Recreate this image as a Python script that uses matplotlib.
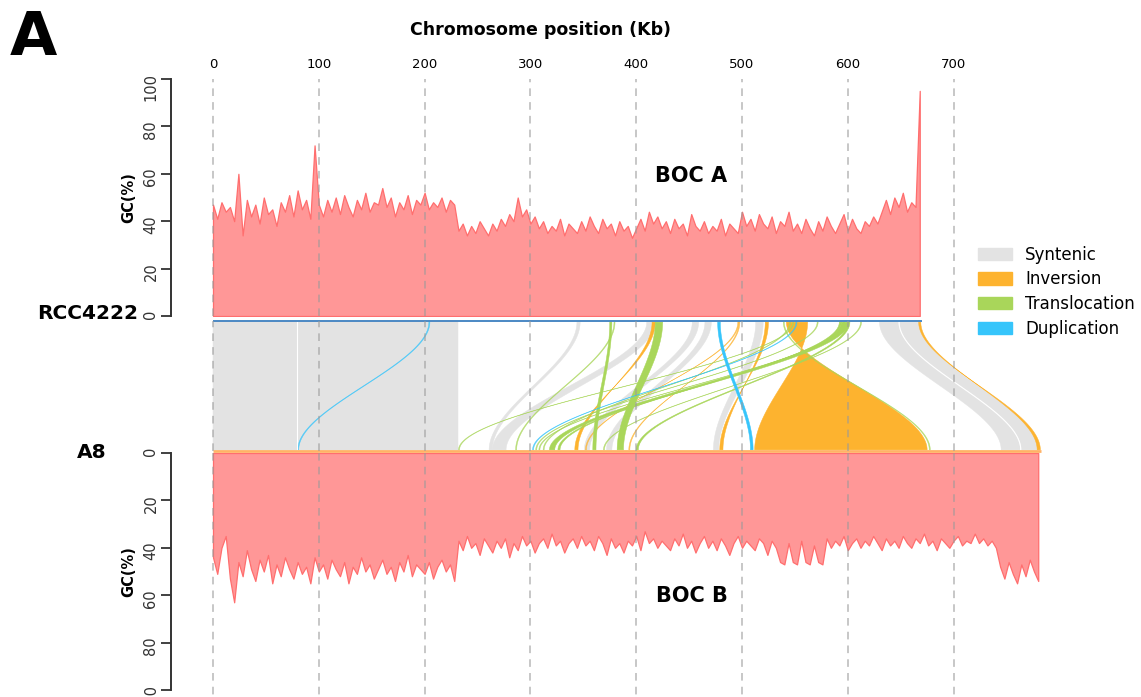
import numpy as np
import matplotlib
matplotlib.use("Agg")
import matplotlib.pyplot as plt
from matplotlib.patches import Patch

# ---- data -------------------------------------------------------------
STEP = 4  # kb per GC window
LEN_A = 670
LEN_B = 783

# GC(%) of RCC4222 (BOC A), one value per 4 kb window
gc_a = [47, 41, 48, 44, 46, 40, 60, 34, 49, 42, 47, 39, 50, 43, 45,
        38, 48, 44, 51, 42, 53, 45, 49, 41, 72, 47, 42, 49, 44, 50,
        43, 51, 46, 42, 49, 45, 52, 44, 48, 47, 54, 46, 50, 42, 48,
        45, 51, 43, 49, 47, 52, 45, 48, 46, 50, 44, 49, 47,
        36, 39, 34, 38, 35, 40, 37, 34, 39, 36,
        41, 38, 43, 40, 50, 42, 45, 39, 42, 37,
        40, 35, 38, 36, 41, 34, 39, 37, 35, 40,
        36, 42, 38, 35, 41, 37, 39, 34, 40, 36,
        38, 33, 37, 41, 36, 44, 39, 42, 37, 40,
        35, 41, 37, 39, 34, 43, 38, 36, 40, 35,
        38, 36, 41, 34, 39, 37, 35, 44, 38, 41,
        36, 43, 39, 37, 42, 35, 40, 38, 44, 36,
        39, 35, 41, 37, 34, 40, 36, 42, 38, 35,
        39, 43, 36, 41, 37, 35, 40, 38, 42, 39,
        44, 49, 43, 50, 46, 52, 44, 48, 46, 95]

# GC(%) of A8 (BOC B), one value per 4 kb window
gc_b = [44, 51, 40, 35, 53, 63, 46, 52, 41, 49,
        54, 45, 50, 43, 55, 47, 52, 44, 49, 53,
        46, 51, 48, 55, 44, 50, 47, 53, 45, 49,
        52, 46, 55, 48, 51, 44, 50, 47, 53, 49,
        45, 51, 48, 54, 46, 50, 43, 52, 47, 49,
        51, 46, 53, 48, 45, 50, 47, 54,
        37, 41, 35, 40, 38, 43, 36, 39, 42, 37,
        40, 36, 44, 38, 41, 35, 39, 37, 42, 38,
        36, 40, 34, 39, 37, 42, 38, 36, 40, 35,
        39, 37, 41, 35, 38, 43, 36, 40, 38, 42,
        37, 39, 35, 41, 33, 38, 36, 40, 37, 39,
        41, 36, 39, 34, 40, 37, 42, 38, 35, 40,
        37, 41, 36, 39, 43, 38, 35, 40, 37, 39,
        41, 36, 38, 43, 37, 40,
        46, 47, 38, 46, 47, 37, 46, 47, 39, 46, 47,
        36, 40, 37, 39, 35, 41, 38, 36, 40, 37,
        39, 35, 38, 41, 36, 39, 37, 40, 35, 38,
        40, 36, 38, 34, 39, 37, 41, 36, 38, 40,
        37, 35, 39, 37, 38, 34, 38, 36, 39, 37, 40,
        48, 53, 46, 51, 55, 47, 52, 45, 50, 54]

pos_ticks = [0, 100, 200, 300, 400, 500, 600, 700]

# aligned blocks: (top start, top end, bottom start, bottom end) in kb
syntenic = [(0, 79, 0, 79), (80, 232, 80, 232), (344, 347, 261, 264),
            (410, 418, 264, 277), (453, 459, 351, 356), (465, 471, 372, 377),
            (513, 520, 473, 478), (630, 648, 745, 763), (649, 667, 764, 780)]
inversions = [(542, 562, 512, 675), (415, 418, 342, 345), (497, 498, 393, 394),
              (522, 525, 479, 482), (496, 497, 352, 353), (667, 669, 779, 782)]
translocations = [(375, 377, 359, 362), (379, 380, 286, 287), (418, 425, 382, 388),
                  (594, 601, 318, 323), (596, 597, 308, 309), (548, 549, 232, 233),
                  (539, 540, 677, 678), (600, 602, 400, 402), (612, 613, 369, 370),
                  (545, 546, 312, 313), (592, 594, 326, 328), (571, 572, 305, 306)]
duplications = [(204, 205, 80, 81), (477, 479.5, 508, 510.5), (551, 552, 302, 303)]

# ---- style ------------------------------------------------------------
RED_FILL = "#ff9797"
RED_EDGE = "#ff6e6e"
C_SYN = "#e3e3e3"
C_INV = "#fdb32f"
C_TRA = "#a9d65a"
C_DUP = "#36c5fb"
DASH = "#9a9a9a"
XL = (-39.7, 786.4)

fig = plt.figure(figsize=(11.41, 6.97), dpi=100)
H = 697.0
ax_top = fig.add_axes([171/1141, 1-316/H, 874/1141, 237/H])
ax_mid = fig.add_axes([171/1141, 1-452.5/H, 874/1141, 133/H])
ax_bot = fig.add_axes([171/1141, 1-690/H, 874/1141, 237/H])


def gc_track(ax, gc, length):
    x = np.minimum(np.arange(len(gc)) * STEP, length)
    ax.fill_between(x, 0, gc, facecolor=RED_FILL, edgecolor=RED_EDGE, lw=0.9, zorder=1)
    ax.set_xlim(*XL)
    for s in ["top", "right", "bottom"]:
        ax.spines[s].set_visible(False)
    ax.spines["left"].set_bounds(0, 100)
    ax.spines["left"].set_color("#333333")
    ax.spines["left"].set_linewidth(1.4)
    ax.set_yticks([0, 20, 40, 60, 80, 100])
    ax.tick_params(axis="y", length=7, width=1.3, color="#333333", labelsize=10.5,
                   labelcolor="#333333", labelrotation=90, pad=2)
    ax.set_ylabel("GC(%)", fontsize=10.5, fontweight="bold", labelpad=5)


gc_track(ax_top, gc_a, LEN_A)
ax_top.set_ylim(0, 100)
ax_top.xaxis.tick_top()
ax_top.set_xticks(pos_ticks)
ax_top.tick_params(axis="x", length=0, pad=6, labelsize=9.5)
ax_top.vlines(pos_ticks, 0, 100, colors=DASH, linestyles=(0, (5, 4)), lw=1.1, alpha=0.7, zorder=5)
ax_top.text(452, 59, "BOC A", ha="center", va="center", fontsize=15, fontweight="bold")

gc_track(ax_bot, gc_b, LEN_B)
ax_bot.set_ylim(100, 0)
ax_bot.set_xticks([])
ax_bot.vlines(pos_ticks, 0, 104, colors=DASH, linestyles=(0, (5, 4)), lw=1.1, alpha=0.7,
              zorder=5, clip_on=False)
ax_bot.text(453, 60.3, "BOC B", ha="center", va="center", fontsize=15, fontweight="bold")

# ---- synteny ribbons ---------------------------------------------------
t = np.linspace(0, 1, 80)
s = 3 * t**2 - 2 * t**3
yy = 0.99 - 0.98 * t


def ribbon(ax, blk, color, inv=False):
    t0, t1, b0, b1 = blk
    bl, br = (b1, b0) if inv else (b0, b1)
    xl = t0 + (bl - t0) * s
    xr = t1 + (br - t1) * s
    thin = (t1 - t0) < 1.6
    ax.fill(np.concatenate([xl, xr[::-1]]), np.concatenate([yy, yy[::-1]]),
            facecolor=color, edgecolor=color, lw=0.35, alpha=0.75 if thin else 1.0, zorder=2)


for blk in syntenic:
    ribbon(ax_mid, blk, C_SYN)
# thin white boundaries between adjacent syntenic blocks
for a, b in [(syntenic[0], syntenic[1]), (syntenic[7], syntenic[8])]:
    xa = a[1] + (a[3] - a[1]) * s
    xb = b[0] + (b[2] - b[0]) * s
    ax_mid.plot((xa + xb) / 2, yy, color="white", lw=0.8, zorder=2.5)
for blk in inversions:
    ribbon(ax_mid, blk, C_INV, inv=True)
for blk in translocations:
    ribbon(ax_mid, blk, C_TRA)
for blk in duplications:
    ribbon(ax_mid, blk, C_DUP)

ax_mid.hlines(1.0, 0, LEN_A, colors="#3d7fbf", lw=1.3, zorder=4)
ax_mid.hlines(0.0, 0, LEN_B, colors="#ffb266", lw=2.0, zorder=4)
ax_mid.vlines(pos_ticks, 0, 1, colors=DASH, linestyles=(0, (5, 4)), lw=1.1, alpha=0.7, zorder=5)
ax_mid.set_xlim(*XL)
ax_mid.set_ylim(-0.01, 1.01)
ax_mid.axis("off")

# ---- labels -----------------------------------------------------------
fig.text(10/1141, 1-55/H, "A", fontsize=44, fontweight="bold", va="baseline", ha="left")
fig.text(540/1141, 1-30/H, "Chromosome position (Kb)", fontsize=12.5, fontweight="bold",
         ha="center", va="center")
fig.text(138/1141, 1-314/H, "RCC4222", fontsize=14.5, fontweight="bold", ha="right", va="center")
fig.text(91.5/1141, 1-453/H, "A8", fontsize=14.5, fontweight="bold", ha="center", va="center")

handles = [Patch(facecolor=C_SYN, edgecolor=C_SYN, label="Syntenic"),
           Patch(facecolor=C_INV, edgecolor=C_INV, label="Inversion"),
           Patch(facecolor=C_TRA, edgecolor=C_TRA, label="Translocation"),
           Patch(facecolor=C_DUP, edgecolor=C_DUP, label="Duplication")]
fig.legend(handles=handles, loc="upper left", bbox_to_anchor=(966/1141, 1-234/H),
           frameon=False, fontsize=12, handlelength=2.05, handleheight=0.75,
           handletextpad=0.8, labelspacing=0.4, borderaxespad=0.3)

fig.savefig("out.png", dpi=100)
